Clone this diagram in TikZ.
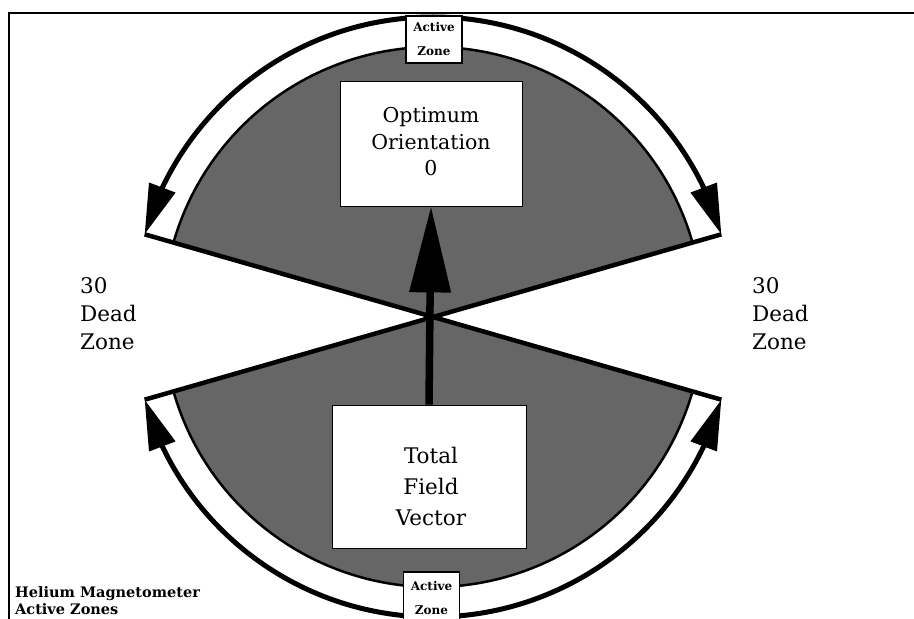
\documentclass[tikz,border=0pt]{standalone}
\usepackage{fontspec}
\setmainfont{DejaVu Serif}
\usetikzlibrary{arrows.meta,bending,calc}
\begin{document}
\begin{tikzpicture}[x=1pt,y=1pt,
  shaded/.style={fill=black!60},
  rim/.style={line width=2.5pt},
  radial/.style={line width=4.5pt},
  zonearrow/.style={line width=5pt,-{Triangle[length=50pt,width=27pt]}},
  bigbox/.style={draw=black,line width=0.8pt,fill=white,inner sep=0pt},
  azbox/.style={draw=black,line width=1.8pt,fill=white,minimum width=56pt,minimum height=47pt,inner sep=0pt,align=center,font=\bfseries\fontsize{12}{24}\selectfont},
  biglabel/.style={align=center,inner sep=0pt},
  sidelabel/.style={align=left,anchor=west,inner sep=0pt,font=\fontsize{21.5}{28}\selectfont},
  fieldarrow/.style={line width=7.5pt,-{Triangle[length=86pt,width=40pt]}},
]
\useasboundingbox (0,0) rectangle (914,619);
% frame (top and left edges)
\draw[line width=2pt] (9,-2) -- (9,606) -- (916,606);
\coordinate (C) at (433,302);
% shaded sectors
\fill[shaded] (C) -- ++(16:270) arc[start angle=16,end angle=164,radius=270] -- cycle;
\fill[shaded] (C) -- ++(196:270) arc[start angle=196,end angle=344,radius=270] -- cycle;
\draw[rim] ($(C)+(16:270)$) arc[start angle=16,end angle=164,radius=270];
\draw[rim] ($(C)+(196:270)$) arc[start angle=196,end angle=344,radius=270];
% radial boundary lines
\draw[radial] ($(C)+(164:300)$) -- ($(C)+(344:300)$);
\draw[radial] ($(C)+(16:300)$) -- ($(C)+(196:300)$);
% outer arcs with arrows
\draw[zonearrow] ($(C)+(90:300)$) arc[start angle=90,end angle=16,radius=300];
\draw[zonearrow] ($(C)+(90:300)$) arc[start angle=90,end angle=164,radius=300];
\draw[zonearrow] ($(C)+(270:300)$) arc[start angle=270,end angle=196,radius=300];
\draw[zonearrow] ($(C)+(270:300)$) arc[start angle=270,end angle=344,radius=300];
% boxes
\node[azbox] (aztop) at (434,579.5) {Active\\Zone};
\node[azbox,minimum height=52pt] (azbot) at (431.5,21) {Active\\Zone};
\node[bigbox,minimum width=182pt,minimum height=125pt] (opt) at (431,475.5) {};
\node[biglabel,font=\fontsize{20.5}{26.5}\selectfont] (opttext) at (431,477) {Optimum\\Orientation\\0};
\node[bigbox,minimum width=194pt,minimum height=143pt] (tfv) at (429,142.5) {};
\node[biglabel,font=\fontsize{21.5}{31}\selectfont] (tfvtext) at (431,133) {Total\\Field\\Vector};
% field vector arrow
\draw[fieldarrow] (tfv.north) -- (opt.south);
% side labels
\node[sidelabel] (deadl) at (80,305) {30\\Dead\\Zone};
\node[sidelabel] (deadr) at (752,305) {30\\Dead\\Zone};
\node[sidelabel,font=\bfseries\fontsize{14.5}{17}\selectfont] (title) at (15,18.5) {Helium Magnetometer\\Active Zones};
\end{tikzpicture}
\end{document}
